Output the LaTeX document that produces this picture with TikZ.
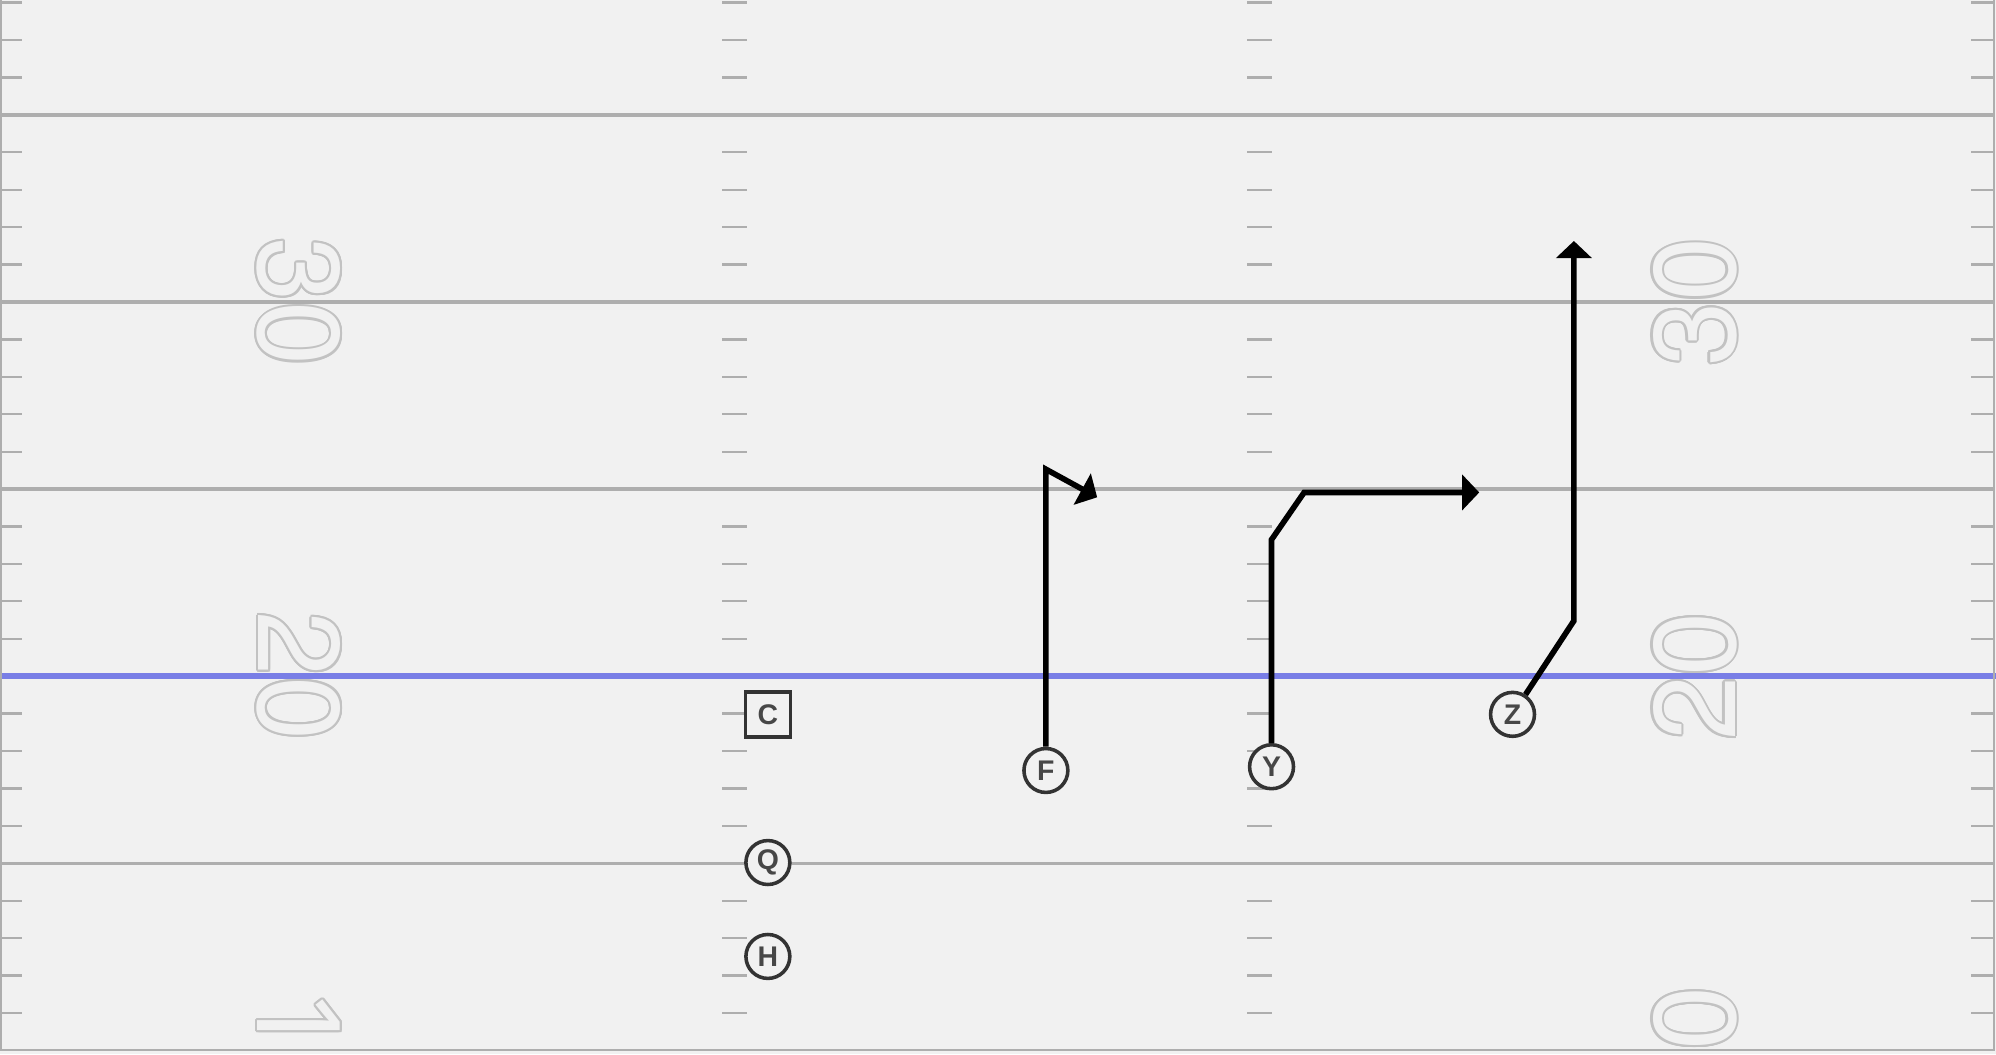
\documentclass[tikz,border=0pt]{standalone}
\usepackage{fontspec}
\setmainfont{Liberation Sans}
\newfontfamily\numfont{TeX Gyre Heros}
\newfontfamily\onefont{Noto Sans}
\usepackage{contour}
\usetikzlibrary{arrows.meta}

\definecolor{fieldbg}{HTML}{F1F1F1}
\definecolor{yardgray}{HTML}{AEAEAE}
\definecolor{numgray}{HTML}{C2C2C2}
\definecolor{losblue}{HTML}{797EE6}
\definecolor{playerdark}{HTML}{333333}
\definecolor{lettergray}{HTML}{474747}
\contourlength{0.8pt}

\begin{document}
\begin{tikzpicture}[x=0.5cm, y=0.5cm,
  player/.style={draw=playerdark, line width=1.35pt, circle, fill=fieldbg, minimum size=16.7pt, inner sep=0pt, text=lettergray, font=\bfseries\fontsize{10.8}{10.8}\selectfont},
  centerbox/.style={player, rectangle, minimum size=17.1pt},
  route/.style={line width=2.15pt, -{Triangle[width=13.3pt, length=6.5pt]}},
  yardline/.style={yardgray, line width=1.3pt},
  hashtick/.style={yardgray, line width=0.85pt},
  yardnum/.style={inner sep=0pt, text=fieldbg, font=\numfont\fontsize{44}{44}\selectfont}
]

\fill[fieldbg] (0,0) rectangle (53.34,28.17);
\useasboundingbox (0,0) rectangle (53.34,28.17);

% yard numbers
\node[yardnum, rotate=-90] (num_l30) at (7.96,20.1) {\contour{numgray}{30}};
\node[yardnum, rotate=-90] (num_l20) at (7.96,10.1) {\contour{numgray}{20}};
\node[yardnum, rotate=-90, font=\onefont\fontsize{44}{44}\selectfont] (num_l1) at (7.96,0.84) {\contour{numgray}{1}};
\node[yardnum, rotate=90] (num_r30) at (45.32,20.1) {\contour{numgray}{30}};
\node[yardnum, rotate=90] (num_r20) at (45.32,10.1) {\contour{numgray}{20}};
\node[yardnum, rotate=90] (num_r0) at (45.32,0.95) {\contour{numgray}{0}};

% yard lines
\foreach \y in {5.1,15.1,20.1,25.1}
  \draw[yardline] (0,\y) -- (53.29,\y);
\draw[losblue, line width=2.3pt] (0,10.1) -- (53.34,10.1);

% hash marks
\foreach \t in {1,2,3,4,6,7,8,9,11,12,13,14,16,17,18,19,21,22,23,24,26,27,28} {
  \draw[hashtick] (0,\t+0.1) -- (0.6,\t+0.1);
  \draw[hashtick] (19.3,\t+0.1) -- (19.96,\t+0.1);
  \draw[hashtick] (33.33,\t+0.1) -- (33.99,\t+0.1);
  \draw[hashtick] (52.68,\t+0.1) -- (53.29,\t+0.1);
}

% sidelines
\draw[yardgray, line width=0.6pt] (0.02,0.1) -- (0.02,28.17);
\draw[yardgray, line width=1pt] (0,0.107) -- (53.29,0.107) -- (53.29,28.17);

% players
\node[centerbox] (player_c) at (20.52,9.07) {C};
\node[player] (player_q) at (20.52,5.12) {Q};
\node[player] (player_h) at (20.52,2.61) {H};
\node[player] (player_f) at (27.95,7.58) {F};
\node[player] (player_y) at (33.98,7.68) {Y};
\node[player] (player_z) at (40.42,9.08) {Z};

% routes
\coordinate (f_top) at (27.95,15.63);
\coordinate (f_end) at (29.32,14.88);
\draw[route] (player_f) -- (f_top) -- (f_end);

\coordinate (y_stem) at (33.98,13.75);
\coordinate (y_break) at (34.85,15.01);
\coordinate (y_end) at (39.53,15.01);
\draw[route] (player_y) -- (y_stem) -- (y_break) -- (y_end);

\coordinate (z_break) at (42.06,11.58);
\coordinate (z_end) at (42.06,21.73);
\draw[route] (player_z) -- (z_break) -- (z_end);

\end{tikzpicture}
\end{document}
